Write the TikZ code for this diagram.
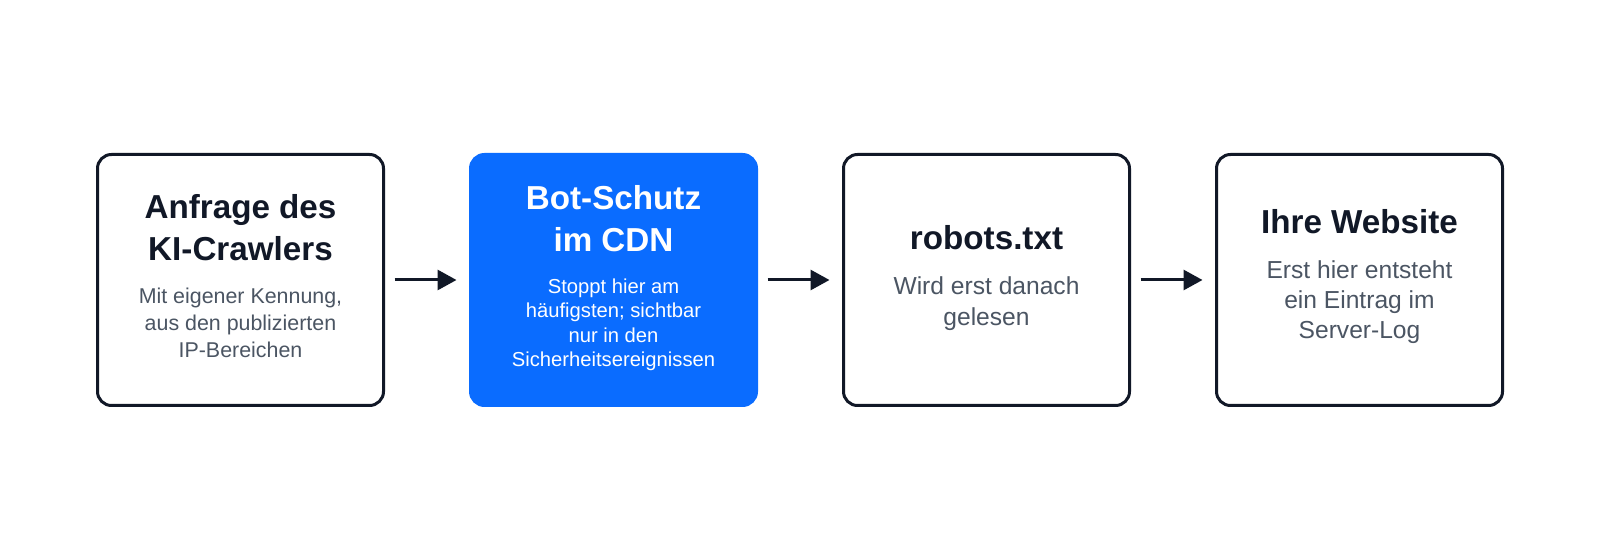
\documentclass[tikz,border=0pt]{standalone}
\usepackage{fontspec}
\setmainfont{Liberation Sans}
\usetikzlibrary{arrows.meta}
\definecolor{ink}{HTML}{111827}
\definecolor{sub}{HTML}{4B5563}
\definecolor{brand}{HTML}{0A6CFF}
\begin{document}
\begin{tikzpicture}[x=0.5pt,y=-0.5pt,
  box/.style={draw=ink, line width=1.5pt, rounded corners=7pt, fill=white,
    minimum width=143pt, minimum height=125.5pt, inner sep=0pt},
  bluebox/.style={box, draw=brand, fill=brand},
  ttl/.style={font=\bfseries\fontsize{16.6}{20}\selectfont, text=ink, anchor=base, inner sep=0pt},
  ttlw/.style={ttl, text=white},
  subA/.style={font=\fontsize{10.7}{12}\selectfont, text=sub, anchor=base, inner sep=0pt},
  subB/.style={font=\fontsize{10.1}{12}\selectfont, text=white, anchor=base, inner sep=0pt},
  subC/.style={font=\fontsize{12.3}{14}\selectfont, text=sub, anchor=base, inner sep=0pt},
  arr/.style={draw=ink, line width=1.5pt, -{Triangle[length=9.5pt,width=10pt]}}
]
\useasboundingbox[fill=white] (0,0) rectangle (1600,533);

\node[box] (b1) at (240.5,280) {};
\node[bluebox] (b2) at (613.5,280) {};
\node[box] (b3) at (986.5,280) {};
\node[box] (b4) at (1359.5,280) {};

% box 1
\node[ttl] (t1a) at (240.5,219) {Anfrage des};
\node[ttl] (t1b) at (240.5,261) {KI-Crawlers};
\node[subA] (s1a) at (240.5,304) {Mit eigener Kennung,};
\node[subA] (s1b) at (240.5,331) {aus den publizierten};
\node[subA] (s1c) at (240.5,358) {IP-Bereichen};

% box 2
\node[ttlw] (t2a) at (613.5,210) {Bot-Schutz};
\node[ttlw] (t2b) at (613.5,252) {im CDN};
\node[subB] (s2a) at (613.5,293.5) {Stoppt hier am};
\node[subB] (s2b) at (613.5,318) {häufigsten; sichtbar};
\node[subB] (s2c) at (613.5,342.5) {nur in den};
\node[subB] (s2d) at (613.5,367) {Sicherheitsereignissen};

% box 3
\node[ttl] (t3a) at (986.5,250) {robots.txt};
\node[subC] (s3a) at (986.5,295) {Wird erst danach};
\node[subC] (s3b) at (986.5,326) {gelesen};

% box 4
\node[ttl] (t4a) at (1359.5,234) {Ihre Website};
\node[subC] (s4a) at (1359.5,279) {Erst hier entsteht};
\node[subC] (s4b) at (1359.5,309) {ein Eintrag im};
\node[subC] (s4c) at (1359.5,339) {Server-Log};

\draw[arr] ([xshift=4.75pt]b1.east) -- ([xshift=-6.25pt]b2.west);
\draw[arr] ([xshift=4.75pt]b2.east) -- ([xshift=-6.25pt]b3.west);
\draw[arr] ([xshift=4.75pt]b3.east) -- ([xshift=-6.25pt]b4.west);
\end{tikzpicture}
\end{document}
